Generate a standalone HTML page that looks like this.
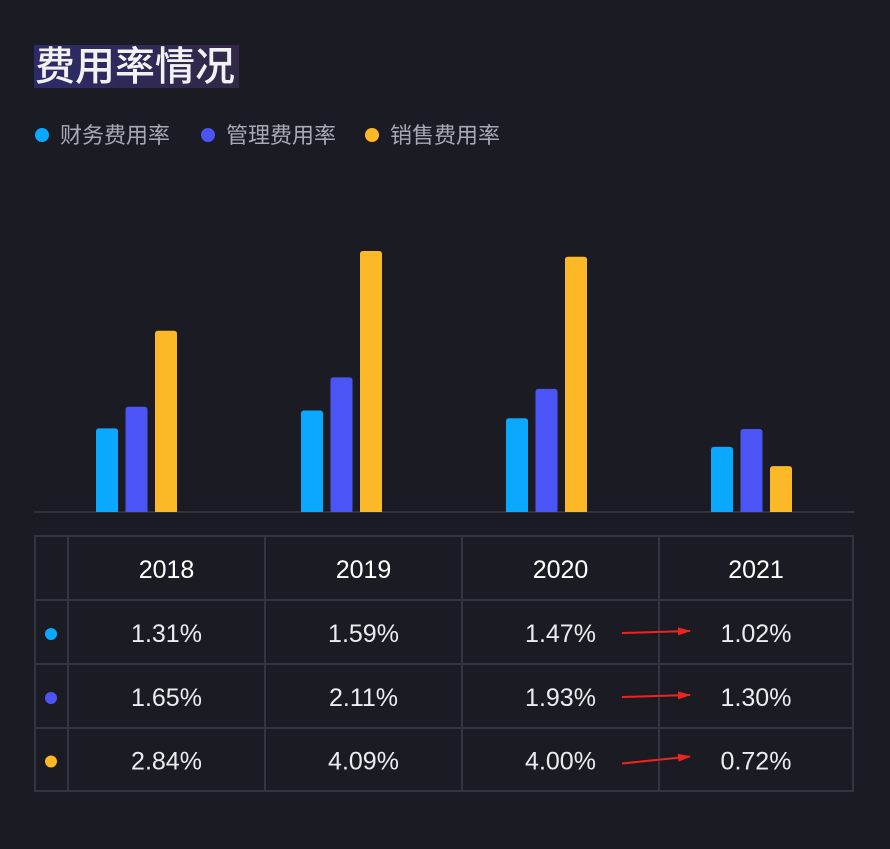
<!DOCTYPE html>
<html><head><meta charset="utf-8"><style>
body{margin:0;background:#1b1b24;}
svg{display:block;font-family:"Liberation Sans","Noto Sans CJK SC",sans-serif;}
</style></head><body>
<svg width="890" height="849">
<rect width="890" height="849" fill="#1b1b24"/>
<defs><linearGradient id="tg" x1="0" x2="1"><stop offset="0" stop-color="#2c2a6a"/><stop offset="1" stop-color="#332845"/></linearGradient>
<marker id="ah" markerWidth="13" markerHeight="8" refX="12" refY="4" orient="auto" markerUnits="userSpaceOnUse"><path d="M0,0 L13,4 L0,8 z" fill="#f0231e"/></marker></defs>
<rect x="34" y="45" width="205" height="43" fill="url(#tg)"/>
<text x="35" y="80" font-size="40" font-weight="500" fill="#f2f2f5" style="font-family:'Noto Sans CJK SC',sans-serif">费用率情况</text>
<g id="legend"></g>
<line x1="34" y1="512" x2="855" y2="512" stroke="#3a3a48" stroke-width="1.5"/>
<g id="bars"></g>
<g id="table"></g>
</svg>
<script>
const categories=["2018","2019","2020","2021"];
const seriesNames=["财务费用率","管理费用率","销售费用率"];
const finance=[1.31,1.59,1.47,1.02];
const admin=[1.65,2.11,1.93,1.30];
const sales=[2.84,4.09,4.00,0.72];
const colors=["#0aa8ff","#4b55f5","#fdb827"];
const NS="http://www.w3.org/2000/svg";
function mk(t,a,p){const e=document.createElementNS(NS,t);for(const k in a)e.setAttribute(k,a[k]);p.appendChild(e);return e;}
const series=[finance,admin,sales];
const base=512, scale=63.8;
const yPos=v=>base-v*scale;
const xCenter=i=>137+i*205;
const bars=document.getElementById('bars');
series.forEach((s,si)=>s.forEach((v,i)=>{
 const x=xCenter(i)-41+si*29.5;
 const r=mk('path',{d:`M${x},${base} V${yPos(v)+3} Q${x},${yPos(v)} ${x+3},${yPos(v)} H${x+19} Q${x+22},${yPos(v)} ${x+22},${yPos(v)+3} V${base} Z`,fill:colors[si]},bars);
 
 
}));
const lg=document.getElementById('legend');
const lx=[42,208,372];
seriesNames.forEach((n,i)=>{
 const c=mk('circle',{cx:lx[i],cy:135,r:7,fill:colors[i]},lg);
 
 
 const t=mk('text',{x:lx[i]+18,y:143,'font-size':22,fill:'#a9a9b3'},lg);
 t.textContent=n;
 
 
});
const tb=document.getElementById('table');
const cols=[35,68,265,462,659,853], rows=[536,600,664,728,791];
const st='#34343f';
mk('rect',{x:35,y:536,width:818,height:255,fill:'none',stroke:st,'stroke-width':2},tb);
cols.slice(1,-1).forEach(x=>mk('line',{x1:x,y1:536,x2:x,y2:791,stroke:st,'stroke-width':2},tb));
rows.slice(1,-1).forEach(y=>mk('line',{x1:35,y1:y,x2:853,y2:y,stroke:st,'stroke-width':2},tb));
categories.forEach((c,i)=>{
 const t=mk('text',{x:(cols[i+1]+cols[i+2])/2,y:578,'font-size':25,fill:'#ffffff','text-anchor':'middle'},tb);
 t.textContent=c;
 
 
});
series.forEach((s,si)=>{
 const cy=(rows[si+1]+rows[si+2])/2;
 const d=mk('circle',{cx:51,cy:cy+2,r:6,fill:colors[si]},tb);
 
 
 s.forEach((v,i)=>{
  const t=mk('text',{x:(cols[i+1]+cols[i+2])/2,y:cy+10,'font-size':25,fill:'#ececf0','text-anchor':'middle'},tb);
  t.textContent=v.toFixed(2)+'%';
  
  
 });
 const a=mk('line',{x1:622,y1:cy+1+(si==2?3:0),x2:690,y2:cy-1+(si==2?-2:0),stroke:'#f0231e','stroke-width':2,'marker-end':'url(#ah)'},tb);
 
 
});
</script>
</body></html>
